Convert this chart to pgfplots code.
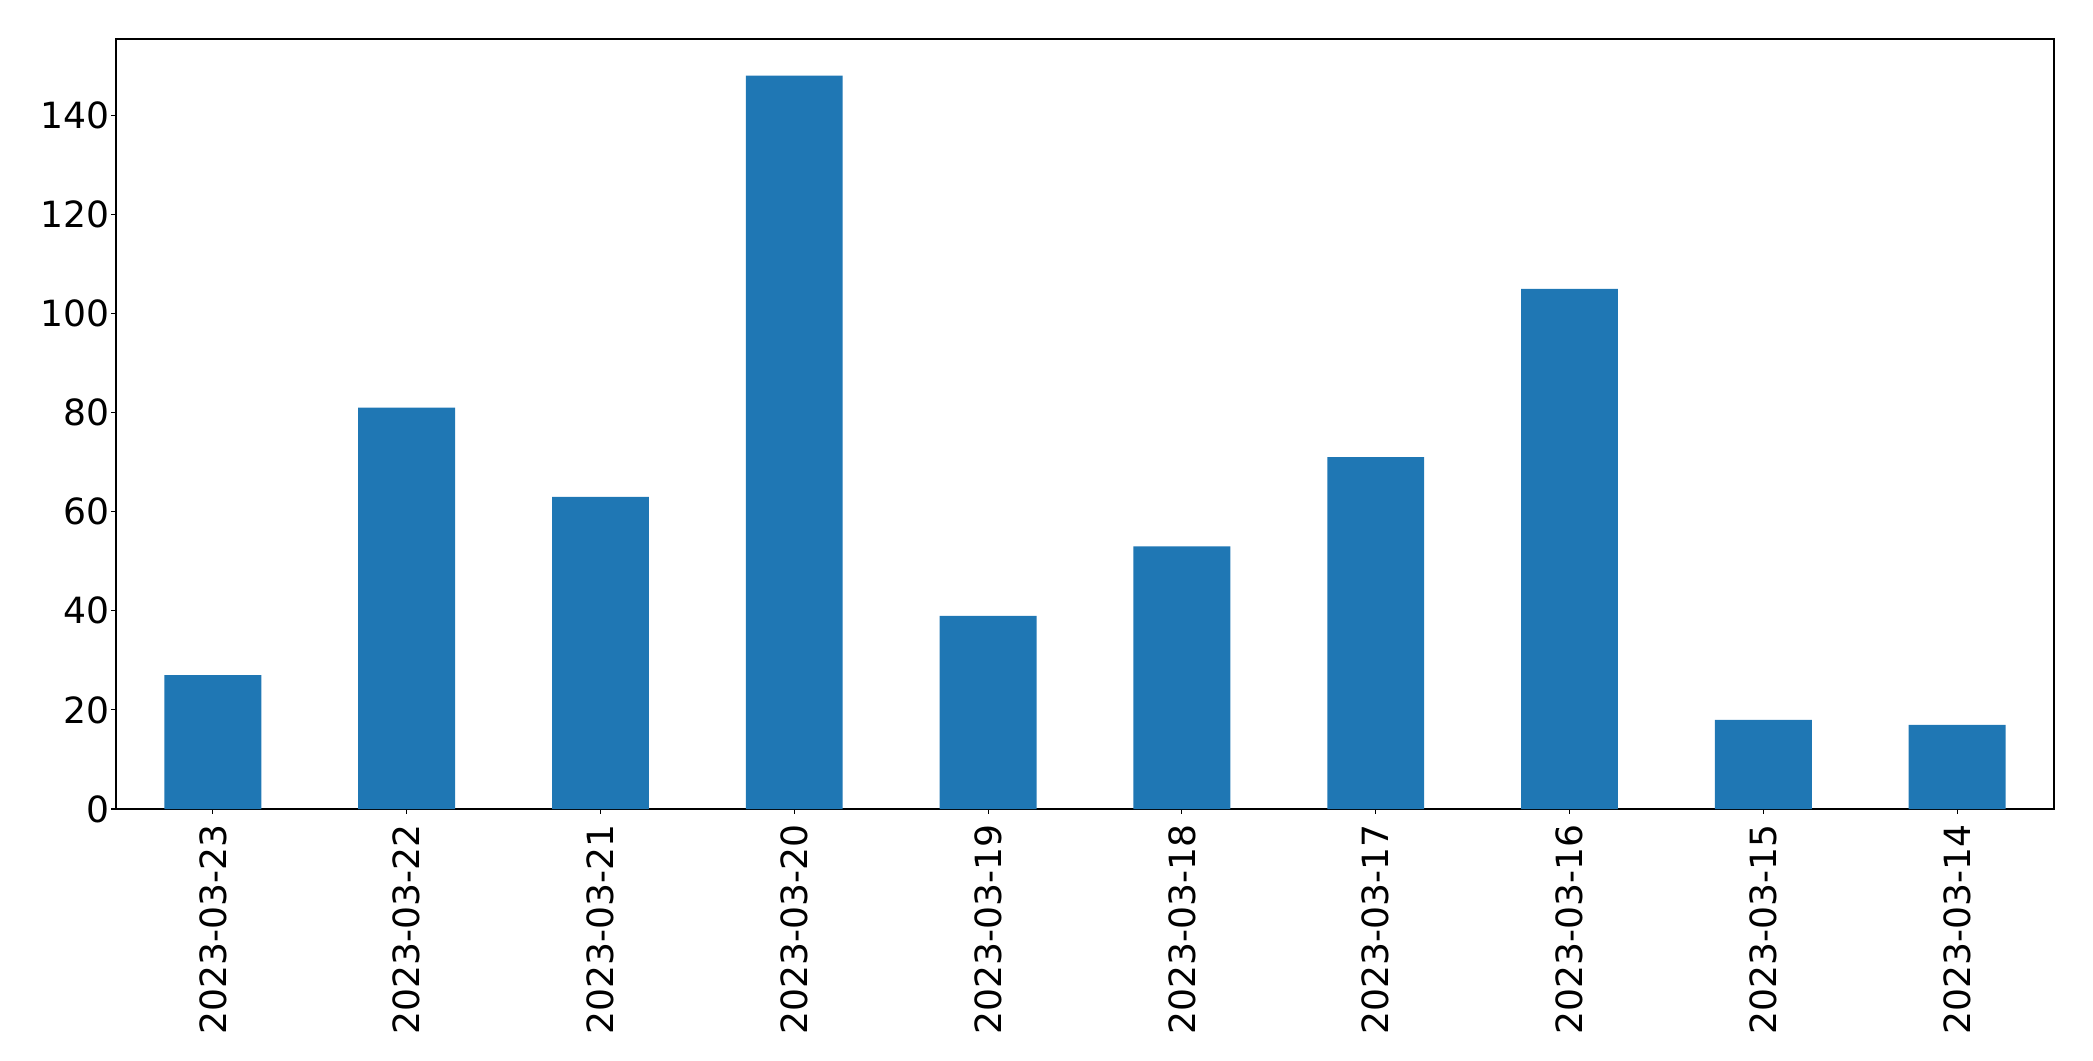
\documentclass[border=0pt]{standalone}
\usepackage{pgfplots}
\pgfplotsset{compat=1.18}
\usepackage{fontspec}
\setmainfont{DejaVu Sans}
\definecolor{mplblue}{HTML}{1F77B4}
\begin{document}
\begin{tikzpicture}
\useasboundingbox (-83.5pt,-181.4pt) rectangle (1423.5pt,582.5pt);
\begin{axis}[
  at={(0,0)}, anchor=south west,
  scale only axis,
  width=1395.4pt, height=554.4pt,
  xmin=-0.5, xmax=9.5, ymin=0, ymax=155.4,
  xtick={0,1,2,3,4,5,6,7,8,9},
  xticklabels={2023-03-23,2023-03-22,2023-03-21,2023-03-20,2023-03-19,2023-03-18,2023-03-17,2023-03-16,2023-03-15,2023-03-14},
  ytick={0,20,40,60,80,100,120,140},
  tick align=outside,
  tick pos=left,
  major tick length=3.5pt,
  tick style={line width=0.8pt, black},
  axis line style={line width=0.8pt},
  every axis/.append style={line width=0.8pt},
  tick label style={font=\fontsize{26}{30}\selectfont},
  /pgf/number format/assume math mode=true,
  xticklabel style={rotate=90, anchor=east, inner sep=0pt, outer sep=0pt},
  yticklabel style={anchor=east, inner sep=0pt, outer sep=0pt},
  xticklabel shift=7.6pt,
  yticklabel shift=1.3pt,
]
\addplot[ybar, bar width=0.5, fill=mplblue, draw=none, bar shift=0pt] coordinates {
(0,27) (1,81) (2,63) (3,148) (4,39) (5,53) (6,71) (7,105) (8,18) (9,17)
};
\end{axis}
\end{tikzpicture}
\end{document}
